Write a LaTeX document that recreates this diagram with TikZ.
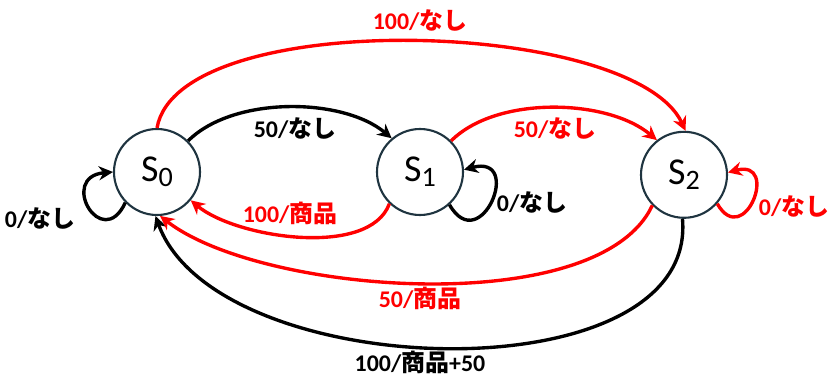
\documentclass[tikz,border=0pt]{standalone}
\usepackage{fontspec}
\setmainfont{Carlito}
\newfontfamily\jpfont{Noto Sans CJK JP}
\usetikzlibrary{arrows.meta}
\definecolor{edgered}{RGB}{255,0,0}
\definecolor{ringcol}{RGB}{31,52,64}
\newcommand{\jp}[1]{{\jpfont #1}}
\newcommand{\st}[1]{S\raisebox{-0.28ex}{\fontsize{20}{20}\selectfont #1}}

\begin{document}
\begin{tikzpicture}[
  state/.style={circle, draw=ringcol, line width=1.5pt, minimum size=2.15cm, inner sep=0pt,
                font=\fontsize{27}{27}\selectfont},
  move/.style={-{Stealth[length=10pt,width=10pt]}, line width=2.4pt},
  lbl/.style={font=\fontsize{17}{20}\selectfont\bfseries}]
\useasboundingbox (0,0) rectangle (20.75,9.4);

\node[state] (s0) at (3.925,5.1) {\st{0}};
\node[state] (s1) at (10.5,5.1) {\st{1}};
\node[state] (s2) at (17.1,5.03) {\st{2}};

% black moves
\draw[move] (s0.45) to[out=45,in=140,looseness=0.8] (s1.130);
\draw[move] (s0.224) to[out=245,in=185,looseness=4.3] (s0.180);
\draw[move] (s1.312) to[out=300,in=15,looseness=4.2] (s1.3);
\draw[move] (s2.268) to[out=275,in=290,looseness=0.87] (s0.268);

% red moves
\draw[move,edgered] (s0.90) to[out=80,in=115,looseness=0.6] (s2.88);
\draw[move,edgered] (s1.45) to[out=45,in=140,looseness=0.8] (s2.128);
\draw[move,edgered] (s1.226) to[out=250,in=320,looseness=0.75] (s0.320);
\draw[move,edgered] (s2.224) to[out=245,in=322,looseness=0.66] (s0.274);
\draw[move,edgered] (s2.319) to[out=300,in=15,looseness=4.2] (s2.3);

\node[lbl,edgered] (l02) at (10.5,8.9) {100/\jp{なし}};
\node[lbl] (l01) at (7.375,6.2) {50/\jp{なし}};
\node[lbl,edgered] (l12) at (13.875,6.2) {50/\jp{なし}};
\node[lbl,edgered] (l10) at (7.25,4.075) {100/\jp{商品}};
\node[lbl] (l00) at (1.0,3.95) {0/\jp{なし}};
\node[lbl] (l11) at (13.3,4.35) {0/\jp{なし}};
\node[lbl,edgered] (l22) at (19.85,4.25) {0/\jp{なし}};
\node[lbl,edgered] (l20) at (10.5,1.95) {50/\jp{商品}};
\node[lbl] (l20b) at (10.5,0.35) {100/\jp{商品}+50};
\end{tikzpicture}
\end{document}
